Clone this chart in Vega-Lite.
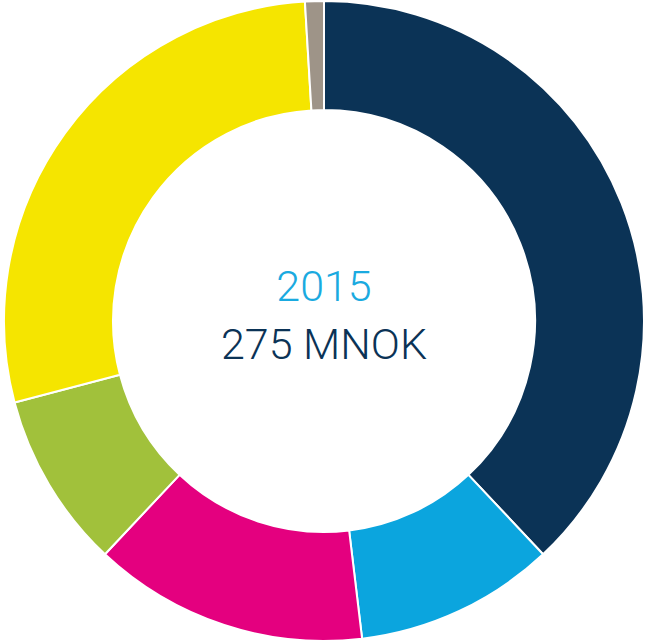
{
  "$schema": "https://vega.github.io/schema/vega-lite/v6.json",
  "width": 648,
  "height": 642,
  "autosize": {"type": "fit", "contains": "padding"},
  "padding": 0,
  "background": "white",
  "view": {"stroke": null},
  "layer": [
    {
      "data": {
        "values": [
          {"segment": "A", "share": 38.0, "order": 1},
          {"segment": "B", "share": 10.1, "order": 2},
          {"segment": "C", "share": 13.9, "order": 3},
          {"segment": "D", "share": 8.9, "order": 4},
          {"segment": "E", "share": 28.15, "order": 5},
          {"segment": "F", "share": 0.95, "order": 6}
        ]
      },
      "mark": {"type": "arc", "radius": 320, "radius2": 211, "stroke": "white", "strokeWidth": 2},
      "encoding": {
        "theta": {"field": "share", "type": "quantitative", "stack": true},
        "order": {"field": "order", "type": "quantitative"},
        "color": {
          "field": "segment",
          "type": "nominal",
          "legend": null,
          "scale": {
            "domain": ["A", "B", "C", "D", "E", "F"],
            "range": ["#0B3356", "#0BA5DE", "#E4007F", "#A1C13B", "#F5E500", "#9E9488"]
          }
        }
      }
    },
    {
      "data": {"values": [{"label": "2015"}]},
      "mark": {"type": "text", "font": "Roboto", "fontWeight": 300, "fontSize": 43, "color": "#1AAAE0", "baseline": "middle", "align": "center", "dy": -33},
      "encoding": {"text": {"field": "label"}}
    },
    {
      "data": {"values": [{"label": "275 MNOK"}]},
      "mark": {"type": "text", "font": "Roboto", "fontWeight": 300, "fontSize": 43, "color": "#0B3356", "baseline": "middle", "align": "center", "dy": 25},
      "encoding": {"text": {"field": "label"}}
    }
  ]
}
